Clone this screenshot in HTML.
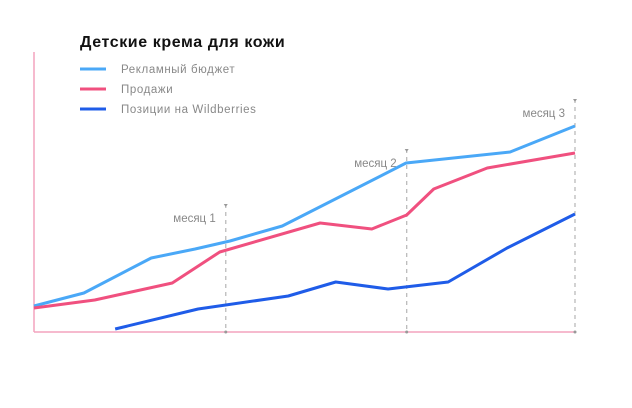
<!DOCTYPE html>
<html><head><meta charset="utf-8">
<style>
html,body{margin:0;padding:0;background:#fff;}
svg{display:block;font-family:"Liberation Sans",sans-serif;}
</style></head>
<body>
<svg id="chart" width="632" height="408">
  <text x="80" y="47" font-size="16" font-weight="bold" letter-spacing="0.6" fill="#111">Детские крема для кожи</text>
  <g>
    <g>
      <line x1="80" y1="69" x2="106" y2="69" stroke="#4aa8f7" stroke-width="3"/>
      <text x="121" y="73" font-size="11.5" letter-spacing="0.6" fill="#888">Рекламный бюджет</text>
    </g>
    <g>
      <line x1="80" y1="89" x2="106" y2="89" stroke="#f0507f" stroke-width="3"/>
      <text x="121" y="93" font-size="11.5" letter-spacing="0.6" fill="#888">Продажи</text>
    </g>
    <g>
      <line x1="80" y1="109" x2="106" y2="109" stroke="#1f5ce8" stroke-width="3"/>
      <text x="121" y="113" font-size="11.5" letter-spacing="0.6" fill="#888">Позиции на Wildberries</text>
    </g>
  </g>
  <line x1="34" y1="52" x2="34" y2="332" stroke="#f4a3bd" stroke-width="1.5"/>
  <line x1="34" y1="332" x2="576" y2="332" stroke="#f4a3bd" stroke-width="1.5"/>
  <g id="marks"></g>
</svg>
<script>
const budgetDays = [0, 8.3, 19.5, 26.8, 32.6, 41.3, 61.9, 79.2, 90];
const budgetValues = [26, 39, 74, 83, 91, 106, 169, 180, 206];
const salesDays = [0, 10.1, 23, 30.9, 47.6, 56.2, 62, 66.5, 75.4, 90];
const salesValues = [24, 32, 49, 80, 109, 103, 117, 143, 164, 179];
const positionDays = [13.5, 27.3, 42.3, 50.2, 58.9, 68.9, 78.7, 90];
const positionValues = [3, 23, 36, 50, 43, 50, 84, 118];
const monthDays = [31.9, 62, 90];
const monthLabels = ["месяц 1", "месяц 2", "месяц 3"];
const monthTops = [128, 183, 233];

const NS = "http://www.w3.org/2000/svg";
const xs = d => 34 + d / 90 * 541;
const ys = v => 332 - v / 280 * 280;
const g = document.getElementById("marks");

monthDays.forEach((d, i) => {
  const x = xs(d);
  const l = document.createElementNS(NS, "line");
  l.setAttribute("x1", x); l.setAttribute("x2", x);
  l.setAttribute("y1", ys(monthTops[i])); l.setAttribute("y2", 332);
  l.setAttribute("stroke", "#bbb"); l.setAttribute("stroke-width", "1.3");
  l.setAttribute("stroke-dasharray", "4 4");
  
  
  g.appendChild(l);
  const tri = document.createElementNS(NS, "path");
  const ty = ys(monthTops[i]);
  tri.setAttribute("d", `M${x-2},${ty} L${x+2},${ty} L${x},${ty+3} Z`);
  tri.setAttribute("fill", "#999");
  
  
  g.appendChild(tri);
  const dot = document.createElementNS(NS, "circle");
  dot.setAttribute("cx", x); dot.setAttribute("cy", 332); dot.setAttribute("r", 1.5);
  dot.setAttribute("fill", "#999");
  
  
  g.appendChild(dot);
  const t = document.createElementNS(NS, "text");
  t.setAttribute("x", x - 10); t.setAttribute("y", ty + 18);
  t.setAttribute("text-anchor", "end");
  t.setAttribute("font-size", "11.5"); t.setAttribute("fill", "#888");
  t.textContent = monthLabels[i];
  
  
  g.appendChild(t);
});

function series(days, vals, color, name) {
  const p = document.createElementNS(NS, "polyline");
  p.setAttribute("points", days.map((d, i) => xs(d) + "," + ys(vals[i])).join(" "));
  p.setAttribute("fill", "none");
  p.setAttribute("stroke", color);
  p.setAttribute("stroke-width", "3");
  p.setAttribute("stroke-linejoin", "round");
  
  
  g.appendChild(p);
}
series(budgetDays, budgetValues, "#4aa8f7", "budget-line");
series(salesDays, salesValues, "#f0507f", "sales-line");
series(positionDays, positionValues, "#1f5ce8", "positions-line");
</script>
</body></html>
